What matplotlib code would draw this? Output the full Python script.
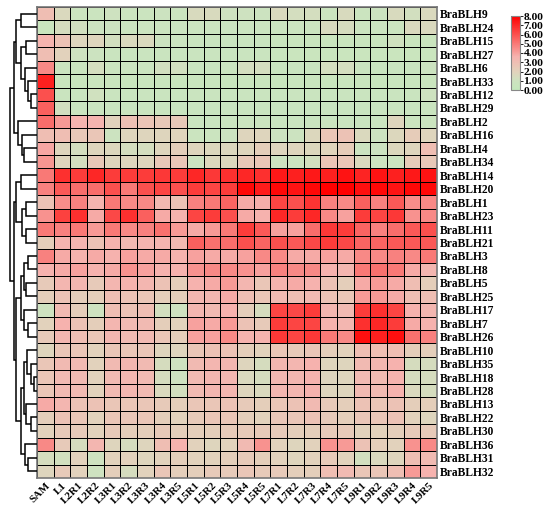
import matplotlib
matplotlib.use('Agg')
import matplotlib.pyplot as plt
import numpy as np
from matplotlib.colors import LinearSegmentedColormap

# Columnas (tejidos) y genes
muestras = ['SAM', 'L1', 'L2R1', 'L2R2', 'L3R1', 'L3R2', 'L3R3', 'L3R4', 'L3R5',
            'L5R1', 'L5R2', 'L5R3', 'L5R4', 'L5R5', 'L7R1', 'L7R2', 'L7R3', 'L7R4',
            'L7R5', 'L9R1', 'L9R2', 'L9R3', 'L9R4', 'L9R5']

genes = ['BraBLH9', 'BraBLH24', 'BraBLH15', 'BraBLH27', 'BraBLH6', 'BraBLH33',
         'BraBLH12', 'BraBLH29', 'BraBLH2', 'BraBLH16', 'BraBLH4', 'BraBLH34',
         'BraBLH14', 'BraBLH20', 'BraBLH1', 'BraBLH23', 'BraBLH11', 'BraBLH21',
         'BraBLH3', 'BraBLH8', 'BraBLH5', 'BraBLH25', 'BraBLH17', 'BraBLH7',
         'BraBLH26', 'BraBLH10', 'BraBLH35', 'BraBLH18', 'BraBLH28', 'BraBLH13',
         'BraBLH22', 'BraBLH30', 'BraBLH36', 'BraBLH31', 'BraBLH32']

expresion = [
    [3.0, 1.6, 0.8, 0.8, 1.0, 0.8, 0.8, 0.9, 0.8, 1.5, 1.5, 1.0, 1.0, 0.9, 1.6, 1.3, 1.3, 0.8, 1.5, 0.8, 0.9, 1.5, 1.2, 1.6],
    [0.6, 1.4, 1.2, 0.9, 0.9, 0.8, 0.8, 0.8, 0.8, 0.8, 0.8, 0.8, 0.8, 0.8, 0.8, 0.8, 0.8, 1.5, 1.4, 0.8, 0.8, 0.8, 1.6, 1.6],
    [3.5, 2.8, 1.8, 1.8, 1.2, 1.6, 1.6, 0.9, 0.8, 0.7, 0.7, 0.7, 0.7, 0.7, 0.6, 0.6, 0.6, 0.6, 0.6, 0.6, 0.6, 1.1, 0.6, 0.6],
    [3.0, 2.0, 1.0, 0.9, 0.7, 0.7, 0.7, 0.7, 0.7, 0.7, 0.7, 0.7, 0.7, 0.7, 0.6, 0.6, 0.6, 0.6, 0.6, 0.6, 0.6, 0.6, 0.6, 0.6],
    [4.6, 0.8, 0.8, 1.3, 0.8, 0.8, 0.8, 1.2, 1.2, 0.7, 0.7, 0.8, 1.3, 1.3, 0.7, 0.7, 0.7, 1.3, 1.3, 0.7, 0.7, 0.7, 0.7, 0.9],
    [7.2, 0.6, 0.6, 0.6, 0.6, 0.6, 0.6, 0.6, 0.6, 0.6, 0.6, 0.6, 0.6, 0.6, 0.6, 0.6, 0.6, 0.6, 0.6, 0.6, 0.6, 0.6, 0.6, 0.6],
    [6.0, 0.7, 0.7, 1.1, 0.7, 0.7, 0.7, 0.7, 0.7, 0.7, 0.7, 0.7, 0.7, 0.7, 0.7, 0.7, 0.7, 0.7, 0.7, 0.7, 0.7, 0.7, 0.7, 1.0],
    [5.6, 1.2, 0.7, 0.7, 0.7, 0.7, 0.7, 0.7, 0.7, 0.7, 0.7, 0.7, 0.7, 0.7, 0.7, 0.7, 0.7, 0.7, 0.7, 0.7, 0.7, 0.7, 0.7, 0.7],
    [5.3, 4.2, 3.5, 3.5, 2.0, 2.9, 2.7, 2.5, 2.5, 0.7, 0.7, 0.8, 0.8, 0.8, 0.7, 0.7, 0.7, 0.7, 0.7, 0.7, 0.7, 1.8, 0.8, 0.8],
    [3.0, 3.0, 2.5, 2.6, 0.9, 1.8, 1.8, 1.8, 1.9, 0.8, 0.8, 0.9, 1.8, 1.8, 0.9, 0.9, 1.7, 2.6, 2.8, 1.6, 0.9, 1.7, 2.3, 1.8],
    [3.9, 1.8, 1.3, 1.8, 1.7, 1.3, 1.3, 1.8, 2.2, 1.8, 1.7, 1.7, 1.8, 2.2, 1.8, 1.8, 1.7, 1.9, 2.3, 0.9, 0.9, 1.7, 1.8, 3.0],
    [4.3, 1.8, 1.3, 2.5, 1.8, 1.8, 1.8, 2.5, 2.6, 0.9, 1.7, 1.7, 2.5, 2.6, 0.9, 0.9, 1.2, 2.7, 2.6, 1.6, 0.9, 0.9, 2.3, 2.5],
    [5.0, 6.8, 6.5, 7.0, 6.5, 6.5, 6.5, 6.6, 6.5, 7.0, 6.6, 6.8, 7.0, 6.8, 7.4, 7.2, 7.4, 7.2, 7.5, 7.1, 7.5, 7.2, 7.4, 7.5],
    [4.8, 5.8, 5.3, 5.3, 6.0, 5.0, 6.0, 6.3, 6.0, 6.5, 6.3, 6.5, 7.8, 7.3, 7.8, 7.5, 7.8, 8.0, 8.0, 7.6, 7.8, 7.5, 7.8, 7.8],
    [2.8, 4.5, 4.8, 3.5, 5.0, 4.6, 4.6, 3.3, 2.8, 4.8, 5.0, 5.5, 3.8, 3.7, 6.3, 6.0, 6.7, 4.8, 4.6, 5.6, 4.8, 5.8, 4.5, 4.6],
    [4.4, 6.4, 6.8, 3.8, 6.2, 6.8, 5.6, 3.8, 3.6, 6.3, 6.5, 6.0, 3.8, 3.6, 7.0, 6.5, 7.0, 4.6, 4.0, 6.5, 6.3, 6.6, 4.4, 4.6],
    [5.0, 4.8, 5.0, 4.2, 5.0, 4.6, 4.8, 5.2, 4.2, 3.8, 4.2, 5.0, 6.5, 5.8, 4.0, 4.0, 5.3, 6.6, 6.5, 5.5, 4.8, 5.3, 5.8, 6.0],
    [2.2, 3.5, 3.5, 2.8, 3.6, 3.3, 3.5, 3.5, 3.3, 5.6, 5.2, 5.3, 6.0, 5.5, 6.0, 5.8, 6.2, 6.5, 6.2, 5.5, 5.5, 5.8, 5.8, 5.8],
    [4.8, 3.8, 3.6, 3.8, 3.6, 4.0, 3.8, 3.8, 3.6, 4.0, 3.8, 3.8, 4.0, 4.6, 4.6, 3.8, 3.8, 4.0, 3.8, 4.6, 4.6, 4.8, 4.6, 5.0],
    [3.6, 3.8, 4.0, 3.6, 3.8, 4.4, 4.0, 3.6, 3.6, 4.4, 4.6, 4.6, 4.4, 4.0, 4.8, 4.6, 4.6, 3.6, 3.4, 5.0, 5.2, 5.0, 3.8, 3.4],
    [2.4, 3.4, 3.4, 2.4, 3.4, 3.6, 3.4, 2.8, 2.2, 3.6, 3.8, 4.2, 3.4, 2.6, 3.6, 3.8, 3.6, 2.8, 2.2, 3.8, 4.2, 3.8, 3.0, 2.2],
    [2.2, 2.8, 2.2, 2.2, 3.0, 2.8, 2.6, 2.2, 2.2, 3.4, 3.4, 3.8, 3.0, 2.6, 3.2, 3.0, 3.2, 2.8, 2.6, 4.2, 4.2, 3.8, 3.0, 3.0],
    [1.0, 3.2, 2.2, 1.0, 3.0, 2.8, 3.0, 1.2, 1.0, 3.4, 3.2, 3.6, 2.2, 1.4, 6.3, 6.2, 6.5, 3.4, 3.2, 6.5, 6.8, 6.3, 3.6, 3.4],
    [2.0, 3.6, 2.8, 2.2, 3.4, 3.2, 3.2, 2.2, 2.0, 4.0, 3.8, 4.2, 2.8, 2.4, 6.5, 6.3, 6.3, 3.6, 3.4, 6.8, 7.0, 6.5, 3.8, 3.6],
    [2.4, 3.4, 3.0, 2.6, 3.4, 3.2, 3.2, 2.6, 2.2, 4.0, 4.0, 4.6, 3.6, 3.6, 6.6, 6.3, 6.6, 5.0, 4.6, 7.6, 7.2, 7.6, 5.2, 4.8],
    [1.8, 2.6, 2.6, 2.0, 2.6, 2.6, 2.6, 1.8, 1.8, 2.6, 2.8, 2.8, 2.2, 2.0, 2.6, 2.4, 2.6, 2.2, 2.0, 3.0, 3.0, 3.0, 2.2, 2.2],
    [2.6, 3.2, 3.2, 2.0, 3.2, 3.4, 3.2, 1.4, 1.0, 3.2, 3.4, 3.4, 1.8, 1.4, 3.4, 3.4, 3.6, 1.8, 1.8, 3.2, 3.4, 3.6, 1.4, 1.4],
    [2.6, 3.2, 3.2, 2.0, 3.2, 3.4, 3.2, 1.4, 1.0, 3.2, 3.4, 3.4, 1.6, 1.4, 3.4, 3.4, 3.6, 1.8, 1.8, 3.2, 3.2, 3.6, 1.4, 1.4],
    [2.6, 3.2, 3.2, 2.0, 3.2, 3.4, 3.2, 1.6, 1.2, 3.2, 3.4, 3.4, 1.8, 1.6, 3.4, 3.4, 3.6, 1.8, 1.8, 3.2, 3.2, 3.6, 1.6, 1.4],
    [3.8, 3.4, 2.8, 2.8, 2.6, 2.6, 2.6, 2.4, 2.2, 2.6, 2.6, 2.8, 2.4, 2.2, 2.6, 2.8, 3.2, 2.4, 2.2, 2.8, 2.6, 2.8, 2.2, 2.2],
    [2.2, 2.8, 2.6, 2.0, 2.6, 2.6, 2.6, 2.2, 2.0, 2.4, 2.6, 2.6, 2.2, 2.0, 2.6, 2.6, 2.8, 2.4, 2.2, 2.6, 2.6, 2.8, 2.0, 1.8],
    [2.0, 2.4, 2.4, 2.0, 2.4, 2.2, 2.2, 2.4, 2.2, 2.2, 2.2, 2.4, 2.4, 2.4, 2.4, 2.2, 2.2, 2.4, 2.4, 2.0, 2.0, 2.2, 2.4, 2.4],
    [4.6, 2.4, 1.4, 3.4, 1.8, 1.4, 1.8, 3.0, 3.6, 2.0, 1.8, 2.0, 3.2, 4.4, 2.0, 1.8, 2.0, 4.4, 4.2, 2.8, 2.2, 2.0, 4.4, 4.6],
    [1.4, 1.2, 2.0, 1.0, 2.0, 2.0, 1.8, 2.0, 2.2, 2.0, 2.0, 2.2, 2.4, 2.2, 2.0, 1.8, 2.0, 2.4, 2.0, 1.2, 1.6, 1.8, 3.0, 3.2],
    [1.8, 2.4, 2.0, 1.0, 2.2, 1.4, 2.0, 2.6, 2.2, 2.2, 2.4, 2.4, 2.6, 2.4, 2.4, 2.2, 2.2, 3.0, 3.2, 2.6, 2.6, 3.0, 4.2, 3.6],
]

# Árbol de agrupamiento de filas: (izquierda, derecha, altura); hojas = índice de fila
arbol_sup = (((0, 1, 16), ((2, 3, 11), (4, (5, (6, 7, 6), 9.3), 12), 16), 21),
             (8, (9, (10, 11, 12.7), 15.3), 19.3), 23.3)
arbol_inf = (((12, 13, 16), ((14, 15, 11), (16, 17, 11), 15.3), 21),
             ((((18, 19, 9.3), (20, 21, 11), 13.3), (22, (23, 24, 9.3), 12.7), 16),
              (((25, (26, (27, 28, 2.7), 6), 10), (29, (30, 31, 6), 11), 13.3),
               (32, (33, 34, 9.3), 12), 16), 21), 23.3)
arbol = (arbol_sup, arbol_inf, 27)

datos = np.array(expresion)
n_filas, n_cols = datos.shape

serif = 'Liberation Serif'
cmap = LinearSegmentedColormap.from_list(
    'verde_rojo', [(0.0, '#c4e8bc'), (0.12, '#cde3c0'), (0.25, '#e2d2bc'),
                   (0.45, '#f6b2ae'), (1.0, '#ff0000')])

fig = plt.figure(figsize=(5.5, 5.07), dpi=100)

# Mapa de calor
ax = fig.add_axes([37 / 550, 1 - 478 / 507, 400 / 550, 471 / 507])
ax.pcolormesh(np.arange(n_cols + 1), np.arange(n_filas + 1), datos, cmap=cmap,
              vmin=0, vmax=8, edgecolors='black', linewidth=0.7)
ax.set_xlim(0, n_cols)
ax.set_ylim(n_filas, 0)
ax.yaxis.tick_right()
ax.set_yticks(np.arange(n_filas) + 0.5)
ax.set_yticklabels(genes, fontfamily=serif, fontweight='bold', fontsize=8.3)
ax.set_xticks(np.arange(n_cols) + 0.5)
ax.set_xticklabels(muestras, fontfamily=serif, fontweight='bold', fontsize=7.8,
                   rotation=45, ha='right', va='top', rotation_mode='anchor')
ax.tick_params(length=0, pad=2)
for s in ax.spines.values():
    s.set_color('#777777')
    s.set_linewidth(1.2)


# Dendrograma
axd = fig.add_axes([0, 1 - 478 / 507, 37 / 550, 471 / 507])
axd.set_xlim(37, 0)
axd.set_ylim(n_filas, 0)
axd.axis('off')


def dibujar(nodo):
    if isinstance(nodo, int):
        return nodo + 0.5, 0.0
    izq, der, h = nodo
    y1, h1 = dibujar(izq)
    y2, h2 = dibujar(der)
    axd.plot([h1, h, h, h2], [y1, y1, y2, y2], color='black', lw=1.1,
             solid_capstyle='butt', solid_joinstyle='miter')
    return (y1 + y2) / 2, h


dibujar(arbol)

# Barra de color
cax = fig.add_axes([511 / 550, 1 - 90 / 507, 9 / 550, 74 / 507])
sm = plt.cm.ScalarMappable(cmap=cmap, norm=plt.Normalize(0, 8))
cb = fig.colorbar(sm, cax=cax, ticks=np.arange(0, 9))
cb.ax.set_yticklabels(['%.2f' % v for v in range(9)], fontfamily=serif,
                      fontweight='bold', fontsize=8.2)
cb.ax.tick_params(length=2, width=0.6, pad=0.5)
cb.outline.set_edgecolor('#888888')

plt.savefig('out.png', dpi=100)
